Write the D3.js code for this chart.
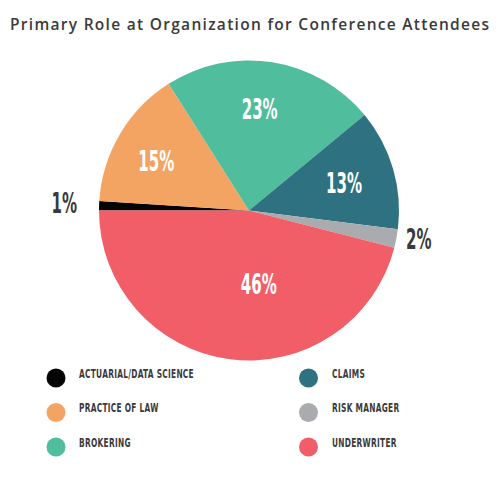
<!DOCTYPE html>
<html>
<head>
<meta charset="utf-8">
<script src="https://cdn.jsdelivr.net/npm/d3@7"></script>
<style>
  html, body { margin: 0; padding: 0; background: #fff; }
  svg { display: block; }
</style>
</head>
<body>
<div id="chart"></div>
<script>
// ---- data ----
const title = "Primary Role at Organization for Conference Attendees";
const categories = ["ACTUARIAL/DATA SCIENCE", "PRACTICE OF LAW", "BROKERING", "CLAIMS", "RISK MANAGER", "UNDERWRITER"];
const values = [1, 15, 23, 13, 2, 46];
const valueLabels = ["1%", "15%", "23%", "13%", "2%", "46%"];
const colors = ["#050505", "#F4A462", "#50BD9D", "#2E7282", "#A9ABAE", "#F15E67"];

// ---- layout (styles / placement, not data) ----
const W = 500, H = 500;
const cx = 249, cy = 210.5, R = 150;
// label radius factor and angular nudge (deg) per slice
const labelPlace = [
  { rf: 1.233, nudge: 0.5, inside: false },
  { rf: 0.70, nudge: -2.6, inside: true },
  { rf: 0.68, nudge: -3, inside: true },
  { rf: 0.66, nudge: 0, inside: true },
  { rf: 1.147, nudge: -1.3, inside: false },
  { rf: 0.497, nudge: -14.7, inside: true }
];
const condensed = "'Liberation Sans Narrow', 'DejaVu Sans Condensed', 'Roboto', sans-serif";

const svg = d3.select("#chart").append("svg").attr("width", W).attr("height", H);

// title
svg.append("text")
  .attr("x", 10).attr("y", 30)
  .attr("textLength", 479).attr("lengthAdjust", "spacing")
  .attr("font-family", "'Open Sans', 'Noto Sans', sans-serif")
  .attr("font-weight", 600)
  .attr("font-size", 15.5)
  .attr("fill", "#3a3a3c")
  .text(title);

// pie
const pie = d3.pie().sort(null).value(d => d)
  .startAngle(-Math.PI / 2).endAngle(3 * Math.PI / 2);
const arcs = pie(values);
const arc = d3.arc().innerRadius(0).outerRadius(R);

const g = svg.append("g").attr("transform", `translate(${cx},${cy})`);
g.selectAll("path.slice").data(arcs).enter().append("path")
  .attr("class", "slice")
  .attr("d", arc)
  .attr("fill", (d, i) => colors[i]);

// percentage labels
const pctSize = 28;
const lbl = g.selectAll("text.pct").data(arcs).enter().append("text")
  .attr("class", "pct")
  .attr("font-family", condensed)
  .attr("font-weight", 700)
  .attr("font-size", pctSize)
  .attr("text-anchor", "middle")
  .attr("fill", (d, i) => labelPlace[i].inside ? "#ffffff" : "#3a3a3c")
  .text((d, i) => valueLabels[i]);

// measure a reference label to normalise fallback font width (target "23%" ≈ 36px)
let sxPct = 1;
lbl.each(function (d, i) { if (i === 2) sxPct = 36 / this.getComputedTextLength(); });

lbl.attr("transform", (d, i) => {
  const p = labelPlace[i];
  const a = (d.startAngle + d.endAngle) / 2 + p.nudge * Math.PI / 180;
  const r = R * p.rf;
  const x = r * Math.sin(a), y = -r * Math.cos(a);
  return `translate(${x},${y + pctSize * 0.36}) scale(${sxPct},1)`;
});

// legend
const legendCols = [56, 308.5];
const legendRows = [378, 412.5, 447];
const legendSize = 11.5;
const lg = svg.append("g");
const items = lg.selectAll("g.item").data(categories).enter().append("g")
  .attr("class", "item")
  .attr("transform", (d, i) => `translate(${legendCols[Math.floor(i / 3)]},${legendRows[i % 3]})`);
items.append("circle").attr("r", 9.5).attr("fill", (d, i) => colors[i]);
const ltxt = items.append("text")
  .attr("font-family", condensed)
  .attr("font-weight", 700)
  .attr("font-size", legendSize)
  .attr("letter-spacing", 0.4)
  .attr("fill", "#3a3a3c")
  .text(d => d);
let sxLeg = 1;
ltxt.each(function (d, i) { if (i === 0) sxLeg = 115 / this.getComputedTextLength(); });
ltxt.attr("transform", (d, i) => `translate(${i < 3 ? 23 : 23.5},${-0.5}) scale(${sxLeg},1)`);
</script>
</body>
</html>
